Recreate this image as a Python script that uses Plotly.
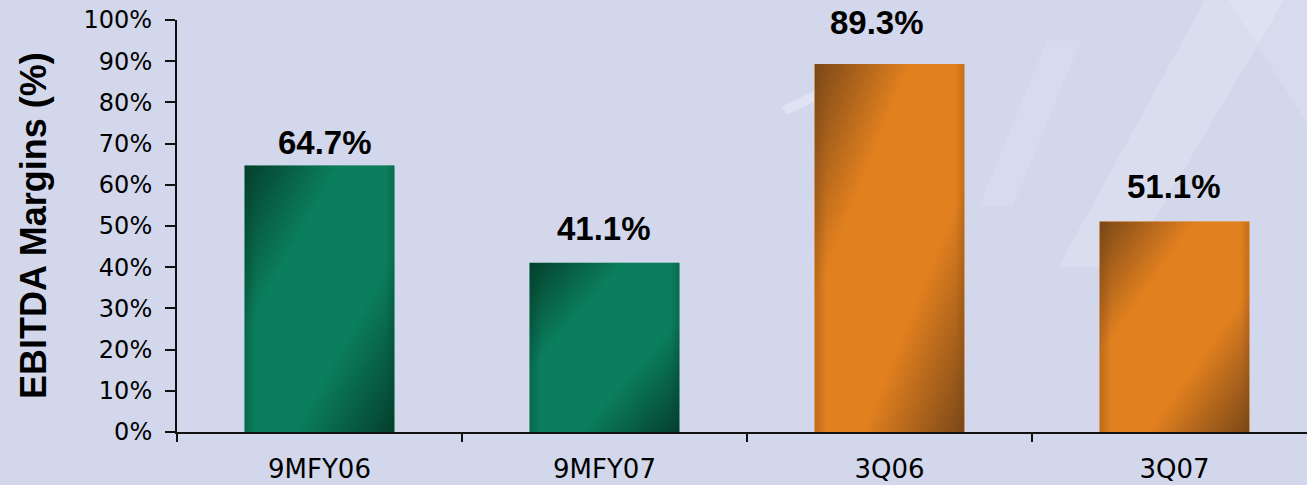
import base64
import plotly.graph_objects as go

# Data
categories = ["9MFY06", "9MFY07", "3Q06", "3Q07"]
margins = [64.7, 41.1, 89.3, 51.1]
bar_colors = ["#0b7f5d", "#0b7f5d", "#e1801f", "#e1801f"]
shade_colors = ["#043f2c", "#043f2c", "#7a4718", "#7a4718"]
y_ticks = list(range(0, 101, 10))
y_tick_text = [f"{t}%" for t in y_ticks]

# per-label nudges (px) for the value labels above the bars
label_dx = [5, 0, -12, 0]
label_dy = [2, 14, 21, 14]

BAR_W = 0.526
xs = list(range(len(categories)))


def gradient_svg(main, dark):
    svg = (
        '<svg xmlns="http://www.w3.org/2000/svg" width="100" height="100" '
        'viewBox="0 0 100 100" preserveAspectRatio="none">'
        '<defs><linearGradient id="g" x1="0" y1="0" x2="1" y2="1">'
        f'<stop offset="0" stop-color="{dark}"/>'
        f'<stop offset="0.32" stop-color="{main}"/>'
        f'<stop offset="0.66" stop-color="{main}"/>'
        f'<stop offset="1" stop-color="{dark}"/>'
        '</linearGradient>'
        '<linearGradient id="e" x1="0" y1="0" x2="1" y2="0">'
        f'<stop offset="0" stop-color="{dark}" stop-opacity="0.35"/>'
        f'<stop offset="0.08" stop-color="{dark}" stop-opacity="0"/>'
        f'<stop offset="0.94" stop-color="{dark}" stop-opacity="0"/>'
        f'<stop offset="1" stop-color="{dark}" stop-opacity="0.30"/>'
        '</linearGradient></defs>'
        '<rect width="100" height="100" fill="url(#g)"/>'
        '<rect width="100" height="100" fill="url(#e)"/>'
        '</svg>'
    )
    return "data:image/svg+xml;base64," + base64.b64encode(svg.encode()).decode()


fig = go.Figure(
    go.Bar(
        x=xs,
        y=margins,
        width=BAR_W,
        marker=dict(color=bar_colors, line=dict(width=0)),
        cliponaxis=False,
        hoverinfo="skip",
    )
)

# shaded bar faces, sized from the same values as the bars
images = []
for x, v, c, d in zip(xs, margins, bar_colors, shade_colors):
    images.append(dict(
        source=gradient_svg(c, d),
        xref="x", yref="y",
        x=x - BAR_W / 2, y=v,
        sizex=BAR_W, sizey=v,
        xanchor="left", yanchor="top",
        sizing="stretch", layer="above",
    ))

# value labels above each bar
annotations = [
    dict(
        text=f"<b>{v:.1f}%</b>", x=x, y=v, xref="x", yref="y",
        xanchor="center", yanchor="bottom", xshift=dx, yshift=dy,
        showarrow=False,
        font=dict(family="Liberation Sans", size=33, color="#000000"),
    )
    for x, v, dx, dy in zip(xs, margins, label_dx, label_dy)
]
annotations.append(dict(
    text="<b>EBITDA Margins (%)</b>",
    xref="paper", yref="paper",
    x=(33 - 177) / 1130, y=(432 - 226) / 412,
    xanchor="center", yanchor="middle",
    textangle=-90, showarrow=False,
    font=dict(family="Liberation Sans", size=36, color="#000000"),
))

# faint light streaks across the backdrop
streaks = [
    ("M 0.78,0.40 L 0.84,0.40 L 0.98,1.05 L 0.91,1.05 Z", 0.16),
    ("M 0.71,0.55 L 0.74,0.55 L 0.80,0.95 L 0.77,0.95 Z", 0.10),
    ("M 0.535,0.79 L 0.565,0.83 L 0.57,0.81 L 0.54,0.77 Z", 0.30),
    ("M 0.93,1.05 L 1.0,0.75 L 1.0,1.05 Z", 0.12),
]
shapes = [
    dict(type="path", path=p, xref="paper", yref="paper", layer="below",
         fillcolor=f"rgba(255,255,255,{a})", line=dict(width=0))
    for p, a in streaks
]

fig.update_layout(
    width=1307, height=485,
    margin=dict(l=177, r=0, t=20, b=53),
    paper_bgcolor="#d3d7eb",
    plot_bgcolor="rgba(0,0,0,0)",
    showlegend=False,
    images=images,
    shapes=shapes,
    annotations=annotations,
    font=dict(family="DejaVu Sans", color="#000000"),
    xaxis=dict(
        range=[-0.5, 3.465],
        tickmode="array", tickvals=xs, ticktext=categories,
        ticks="", showgrid=False, zeroline=False,
        showline=True, linecolor="#111111", linewidth=2,
        tickfont=dict(family="DejaVu Sans", size=26, color="#000000"),
        ticklabelstandoff=13,
        minor=dict(tickmode="linear", tick0=-0.5, dtick=1, ticks="outside",
                   ticklen=8, tickwidth=2, tickcolor="#111111", showgrid=False),
        fixedrange=True,
    ),
    yaxis=dict(
        range=[0, 100],
        tickmode="array", tickvals=y_ticks, ticktext=y_tick_text,
        ticks="outside", ticklen=10, tickwidth=2, tickcolor="#111111",
        showline=True, linecolor="#111111", linewidth=2,
        showgrid=False, zeroline=False,
        tickfont=dict(family="DejaVu Sans", size=24, color="#000000"),
        ticklabelstandoff=8,
        fixedrange=True,
    ),
)

fig.write_html("out.html")
